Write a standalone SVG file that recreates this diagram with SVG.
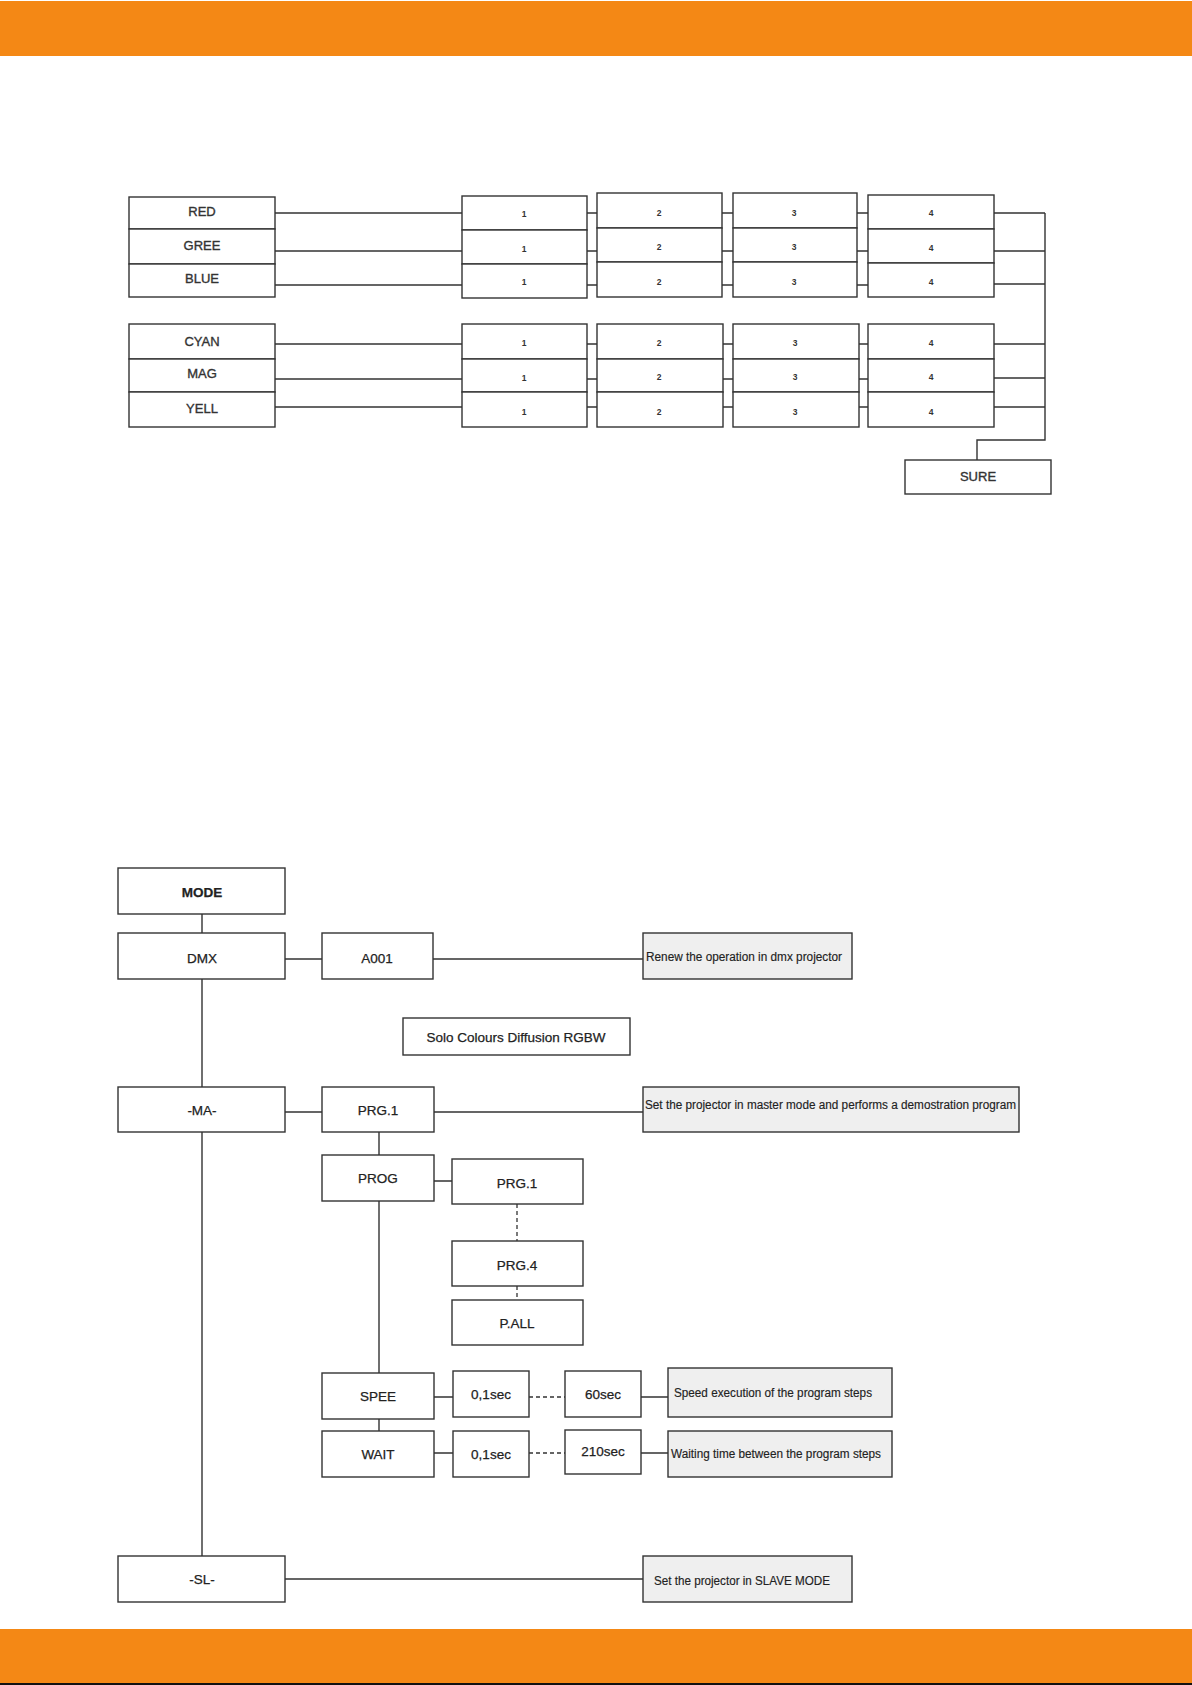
<svg xmlns="http://www.w3.org/2000/svg" width="1192" height="1685" viewBox="0 0 1192 1685">
<style>
.bx{fill:#fff;stroke:#333;stroke-width:1.4}
.ds{fill:#efefef;stroke:#333;stroke-width:1.4}
.ln{fill:none;stroke:#333;stroke-width:1.4}
.dl{fill:none;stroke:#333;stroke-width:1.3;stroke-dasharray:4,3}
.t{font-family:"Liberation Sans",Arial,sans-serif;font-size:13px;fill:#333;stroke:#333;stroke-width:0.35;text-anchor:middle}
.n{font-family:"Liberation Sans",Arial,sans-serif;font-size:8.5px;font-weight:bold;fill:#333;text-anchor:middle}
.m{font-family:"Liberation Sans",Arial,sans-serif;font-size:13.5px;fill:#222;stroke:#222;stroke-width:0.25;text-anchor:middle}
.d{font-family:"Liberation Sans",Arial,sans-serif;font-size:12px;fill:#222;stroke:#222;stroke-width:0.15}
</style>
<rect x="0" y="1" width="1192" height="55" fill="#F48815"/>
<rect x="0" y="1629" width="1192" height="54" fill="#F48815"/>
<rect x="0" y="1683" width="1192" height="2" fill="#111"/>

<g id="connectors">
<path class="ln" d="M275 213H462M275 251H462M275 285H462M275 344H462M275 379H462M275 407H462"/>
<path class="ln" d="M587 213H597M722 213H733M857 213H868M587 251H597M722 251H733M857 251H868M587 285H597M722 285H733M857 285H868"/>
<path class="ln" d="M587 344H597M723 344H733M859 344H868M587 379H597M723 379H733M859 379H868M587 407H597M723 407H733M859 407H868"/>
<path class="ln" d="M994 213H1045M994 251H1045M994 284H1045M994 344H1045M994 378H1045M994 407H1045M1045 213V440H977V460"/>
<path class="ln" d="M202 914V933M202 979V1087M202 1132V1556M285 959H322M433 959H643M285 1112H322M434 1112H643M379 1132V1155M434 1181H452M379 1201V1373M379 1419V1431M434 1397H453M641 1397H668M434 1453H453M641 1453H668M285 1579H643"/>
<path class="dl" d="M517 1204V1241M517 1286V1300M529 1397H565M529 1453H565"/>
</g>

<g id="RED"><rect class="bx" x="129" y="197" width="146" height="32"/><text class="t" x="202" y="216">RED</text></g>
<g id="GREE"><rect class="bx" x="129" y="229" width="146" height="35"/><text class="t" x="202" y="250">GREE</text></g>
<g id="BLUE"><rect class="bx" x="129" y="264" width="146" height="33"/><text class="t" x="202" y="283">BLUE</text></g>
<g id="CYAN"><rect class="bx" x="129" y="324" width="146" height="35"/><text class="t" x="202" y="346">CYAN</text></g>
<g id="MAG"><rect class="bx" x="129" y="359" width="146" height="33"/><text class="t" x="202" y="378">MAG</text></g>
<g id="YELL"><rect class="bx" x="129" y="392" width="146" height="35"/><text class="t" x="202" y="413">YELL</text></g>

<g id="c1g1"><rect class="bx" x="462" y="196" width="125" height="34"/><rect class="bx" x="462" y="230" width="125" height="34"/><rect class="bx" x="462" y="264" width="125" height="34"/>
<text class="n" x="524" y="217">1</text><text class="n" x="524" y="252">1</text><text class="n" x="524" y="285">1</text></g>
<g id="c2g1"><rect class="bx" x="597" y="193" width="125" height="35"/><rect class="bx" x="597" y="228" width="125" height="34"/><rect class="bx" x="597" y="262" width="125" height="35"/>
<text class="n" x="659" y="216">2</text><text class="n" x="659" y="250">2</text><text class="n" x="659" y="285">2</text></g>
<g id="c3g1"><rect class="bx" x="733" y="193" width="124" height="35"/><rect class="bx" x="733" y="228" width="124" height="34"/><rect class="bx" x="733" y="262" width="124" height="35"/>
<text class="n" x="794" y="216">3</text><text class="n" x="794" y="250">3</text><text class="n" x="794" y="285">3</text></g>
<g id="c4g1"><rect class="bx" x="868" y="195" width="126" height="34"/><rect class="bx" x="868" y="229" width="126" height="34"/><rect class="bx" x="868" y="263" width="126" height="34"/>
<text class="n" x="931" y="216">4</text><text class="n" x="931" y="251">4</text><text class="n" x="931" y="285">4</text></g>

<g id="c1g2"><rect class="bx" x="462" y="324" width="125" height="35"/><rect class="bx" x="462" y="359" width="125" height="33"/><rect class="bx" x="462" y="392" width="125" height="35"/>
<text class="n" x="524" y="346">1</text><text class="n" x="524" y="381">1</text><text class="n" x="524" y="415">1</text></g>
<g id="c2g2"><rect class="bx" x="597" y="324" width="126" height="35"/><rect class="bx" x="597" y="359" width="126" height="33"/><rect class="bx" x="597" y="392" width="126" height="35"/>
<text class="n" x="659" y="346">2</text><text class="n" x="659" y="380">2</text><text class="n" x="659" y="415">2</text></g>
<g id="c3g2"><rect class="bx" x="733" y="324" width="126" height="35"/><rect class="bx" x="733" y="359" width="126" height="33"/><rect class="bx" x="733" y="392" width="126" height="35"/>
<text class="n" x="795" y="346">3</text><text class="n" x="795" y="380">3</text><text class="n" x="795" y="415">3</text></g>
<g id="c4g2"><rect class="bx" x="868" y="324" width="126" height="35"/><rect class="bx" x="868" y="359" width="126" height="33"/><rect class="bx" x="868" y="392" width="126" height="35"/>
<text class="n" x="931" y="346">4</text><text class="n" x="931" y="380">4</text><text class="n" x="931" y="415">4</text></g>

<g id="SURE"><rect class="bx" x="905" y="460" width="146" height="34"/><text class="t" x="978" y="481">SURE</text></g>

<g id="MODE"><rect class="bx" x="118" y="868" width="167" height="46"/><text class="m" x="202" y="897" font-weight="bold">MODE</text></g>
<g id="DMX"><rect class="bx" x="118" y="933" width="167" height="46"/><text class="m" x="202" y="963">DMX</text></g>
<g id="A001"><rect class="bx" x="322" y="933" width="111" height="46"/><text class="m" x="377" y="963">A001</text></g>
<g id="renew"><rect class="ds" x="643" y="933" width="209" height="46"/><text class="d" x="646" y="961" textLength="196" lengthAdjust="spacingAndGlyphs">Renew the operation in dmx projector</text></g>
<g id="solo"><rect class="bx" x="403" y="1018" width="227" height="37"/><text class="m" x="516" y="1042" font-size="15">Solo Colours Diffusion RGBW</text></g>
<g id="MA"><rect class="bx" x="118" y="1087" width="167" height="45"/><text class="m" x="202" y="1115">-MA-</text></g>
<g id="PRG1"><rect class="bx" x="322" y="1087" width="112" height="45"/><text class="m" x="378" y="1115">PRG.1</text></g>
<g id="master"><rect class="ds" x="643" y="1087" width="376" height="45"/><text class="d" x="645" y="1109" textLength="371" lengthAdjust="spacingAndGlyphs">Set the projector in master mode and performs a demostration program</text></g>
<g id="PROG"><rect class="bx" x="322" y="1155" width="112" height="46"/><text class="m" x="378" y="1183">PROG</text></g>
<g id="PRG1b"><rect class="bx" x="452" y="1159" width="131" height="45"/><text class="m" x="517" y="1188">PRG.1</text></g>
<g id="PRG4"><rect class="bx" x="452" y="1241" width="131" height="45"/><text class="m" x="517" y="1270">PRG.4</text></g>
<g id="PALL"><rect class="bx" x="452" y="1300" width="131" height="45"/><text class="m" x="517" y="1328">P.ALL</text></g>
<g id="SPEE"><rect class="bx" x="322" y="1373" width="112" height="46"/><text class="m" x="378" y="1401">SPEE</text></g>
<g id="s01"><rect class="bx" x="453" y="1371" width="76" height="46"/><text class="m" x="491" y="1399">0,1sec</text></g>
<g id="s60"><rect class="bx" x="565" y="1371" width="76" height="46"/><text class="m" x="603" y="1399">60sec</text></g>
<g id="speed"><rect class="ds" x="668" y="1368" width="224" height="49"/><text class="d" x="674" y="1397" textLength="198" lengthAdjust="spacingAndGlyphs">Speed execution of the program steps</text></g>
<g id="WAIT"><rect class="bx" x="322" y="1431" width="112" height="46"/><text class="m" x="378" y="1459">WAIT</text></g>
<g id="w01"><rect class="bx" x="453" y="1431" width="76" height="46"/><text class="m" x="491" y="1459">0,1sec</text></g>
<g id="w210"><rect class="bx" x="565" y="1430" width="76" height="44"/><text class="m" x="603" y="1456">210sec</text></g>
<g id="waiting"><rect class="ds" x="668" y="1431" width="224" height="46"/><text class="d" x="671" y="1458" textLength="210" lengthAdjust="spacingAndGlyphs">Waiting time between the program steps</text></g>
<g id="SL"><rect class="bx" x="118" y="1556" width="167" height="46"/><text class="m" x="202" y="1584">-SL-</text></g>
<g id="slave"><rect class="ds" x="643" y="1556" width="209" height="46"/><text class="d" x="654" y="1585" textLength="176" lengthAdjust="spacingAndGlyphs">Set the projector in SLAVE MODE</text></g>
</svg>
